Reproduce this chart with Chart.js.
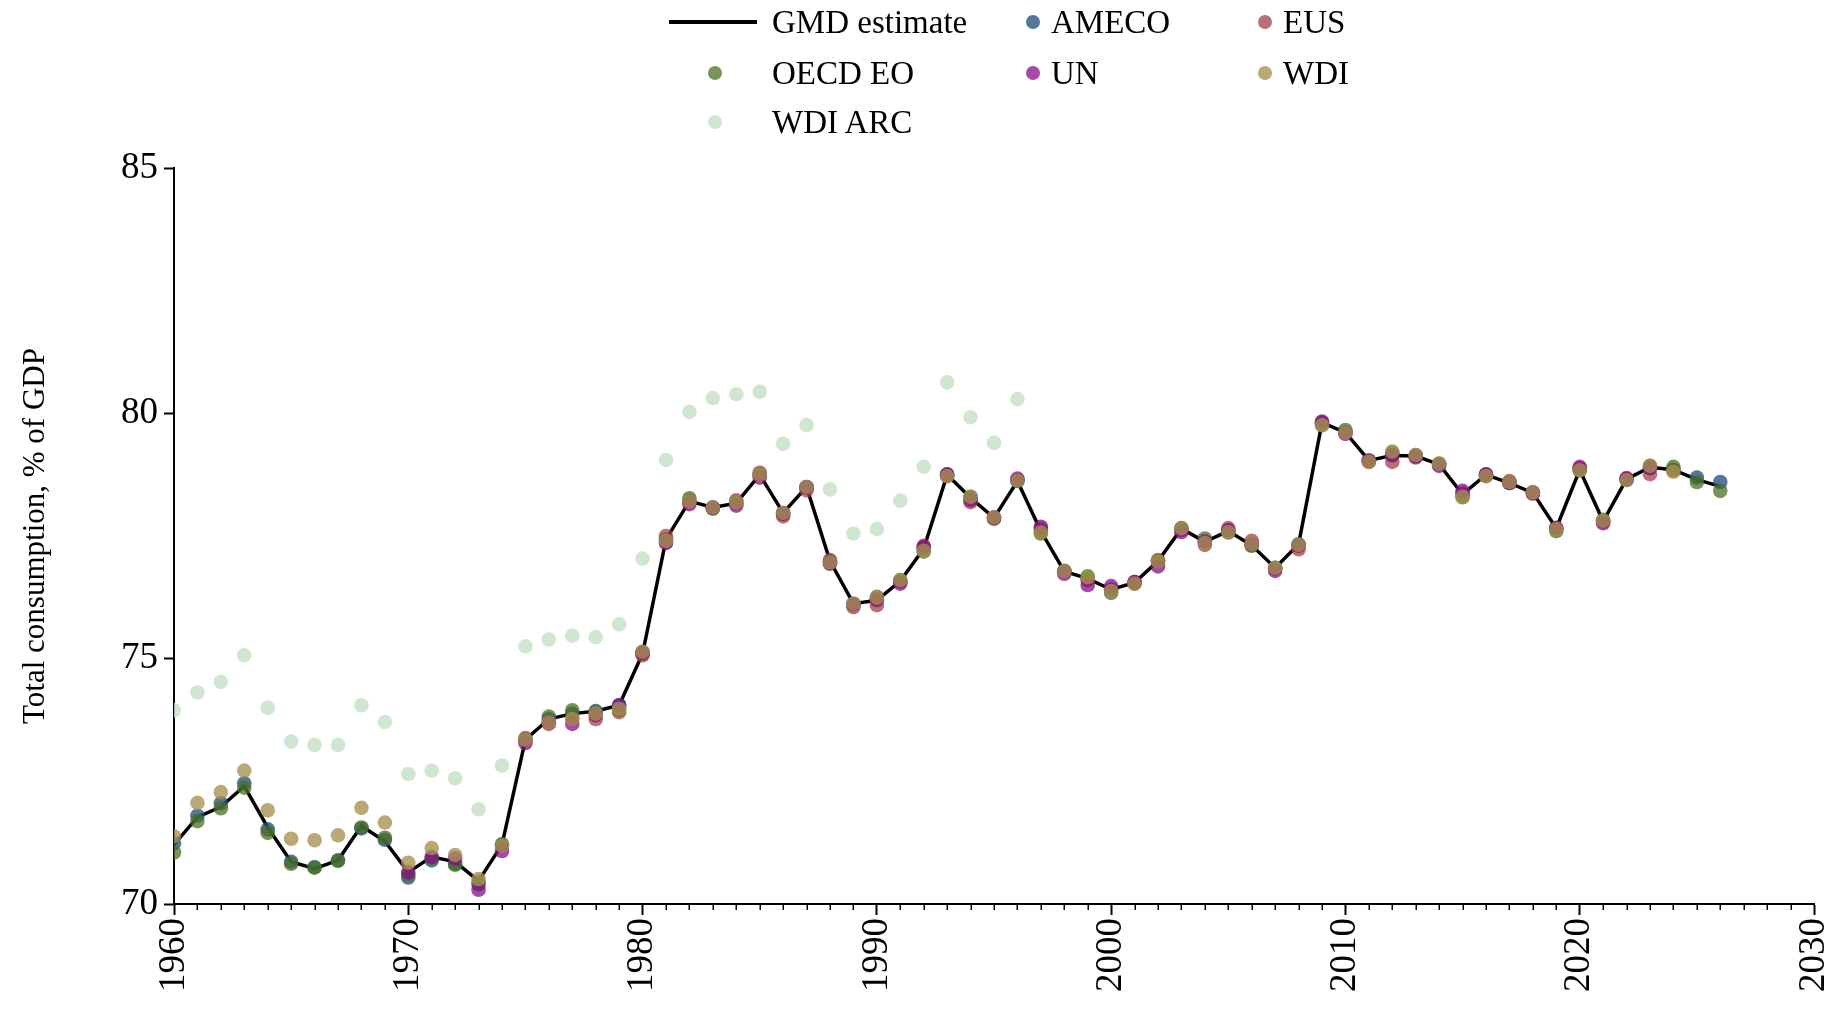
<!DOCTYPE html>
<html><head><meta charset="utf-8">
<script src="https://cdn.jsdelivr.net/npm/chart.js@4"></script>
<style>
html,body{margin:0;padding:0;background:#fff;}
#wrap{position:relative;width:1840px;height:1012px;overflow:hidden;}
canvas{position:absolute;left:0;top:0;}
.lg{position:absolute;display:flex;align-items:center;height:40px;font-family:'Liberation Serif','Times New Roman',serif;font-size:33px;color:#000;white-space:nowrap;line-height:1;}
.dot{position:absolute;width:14px;height:14px;border-radius:50%;}
.ln{position:absolute;height:3.5px;background:#000;}
</style></head>
<body><div id="wrap"><canvas id="c" width="1840" height="1012"></canvas><div id="legend"></div></div>
<script>
const years = [1960,1961,1962,1963,1964,1965,1966,1967,1968,1969,1970,1971,1972,1973,1974,1975,1976,1977,1978,1979,1980,1981,1982,1983,1984,1985,1986,1987,1988,1989,1990,1991,1992,1993,1994,1995,1996,1997,1998,1999,2000,2001,2002,2003,2004,2005,2006,2007,2008,2009,2010,2011,2012,2013,2014,2015,2016,2017,2018,2019,2020,2021,2022,2023,2024,2025,2026];

const gmd = [71.21,71.77,71.98,72.40,71.56,70.86,70.72,70.89,71.59,71.28,
  70.65,70.96,70.86,70.47,71.21,73.35,73.77,73.88,73.93,74.05,
  75.10,77.43,78.21,78.08,78.17,78.75,77.97,78.50,76.99,76.12,
  76.19,76.58,77.24,78.75,78.28,77.87,78.62,77.60,76.78,76.63,
  76.41,76.55,76.99,77.65,77.38,77.60,77.31,76.85,77.33,79.81,
  79.61,79.04,79.14,79.13,78.96,78.35,78.75,78.58,78.38,77.66,
  78.85,77.80,78.66,78.90,78.85,78.65,78.51];

const ameco = [71.24,71.80,72.05,72.46,71.52,70.86,70.75,70.89,71.54,71.31,
  70.54,70.89,70.82,70.40,71.20,73.35,73.77,73.88,73.93,74.05,
  75.10,77.43,78.21,78.08,78.17,78.75,77.97,78.50,76.99,76.12,
  76.19,76.58,77.24,78.75,78.28,77.87,78.62,77.60,76.78,76.63,
  76.41,76.55,76.99,77.65,77.38,77.60,77.31,76.85,77.33,79.81,
  79.61,79.04,79.14,79.13,78.96,78.35,78.75,78.58,78.38,77.66,
  78.85,77.80,78.66,78.90,78.85,78.69,78.60];

const eus = [null,null,null,null,null,null,null,null,null,null,
  null,null,null,null,null,73.38,73.67,73.79,73.77,73.91,
  75.07,77.50,78.19,78.06,78.23,78.79,77.90,78.43,77.01,76.05,
  76.09,76.58,77.30,78.72,78.19,77.88,78.64,77.65,76.79,76.60,
  76.40,76.56,77.01,77.62,77.32,77.66,77.40,76.84,77.23,79.80,
  79.61,79.04,79.01,79.10,78.97,78.37,78.74,78.62,78.36,77.66,
  78.88,77.80,78.68,78.76,78.84,null,null];

const oecd = [71.05,71.69,71.95,72.37,71.45,70.82,70.74,70.88,71.56,71.35,
  70.60,70.94,70.80,70.45,71.22,73.35,73.82,73.95,73.91,73.96,
  75.14,77.37,78.27,78.06,78.18,78.75,77.95,78.49,76.94,76.11,
  76.26,76.60,77.18,78.74,78.30,77.85,78.63,77.55,76.78,76.68,
  76.34,76.53,76.98,77.66,77.45,77.57,77.30,76.84,77.32,79.76,
  79.66,79.01,79.20,79.15,78.97,78.29,78.72,78.60,78.39,77.60,
  78.84,77.83,78.64,78.93,78.91,78.60,78.42];

const un = [null,null,null,null,null,null,null,null,null,null,
  70.65,70.96,70.93,70.29,71.08,73.28,73.70,73.67,73.85,74.05,
  75.12,77.36,78.15,78.08,78.12,78.69,77.95,78.49,76.94,76.11,
  76.21,76.53,77.28,78.76,78.23,77.87,78.67,77.69,76.73,76.50,
  76.48,76.56,76.88,77.58,77.39,77.62,77.33,76.79,77.30,79.83,
  79.58,79.03,79.15,79.12,78.93,78.42,78.76,78.58,78.38,77.66,
  78.91,77.76,78.67,78.88,null,null,null];

const wdi = [71.38,72.06,72.28,72.72,71.91,71.33,71.30,71.40,71.96,71.66,
  70.84,71.14,71.00,70.51,71.19,73.35,73.70,73.77,73.88,73.98,
  75.14,77.40,78.20,78.08,78.18,78.75,77.97,78.50,76.96,76.12,
  76.24,76.60,77.20,78.72,78.30,77.88,78.63,77.57,76.78,76.66,
  76.38,76.53,76.98,77.66,77.36,77.58,77.33,76.85,77.32,79.76,
  79.60,79.01,79.22,79.15,78.97,78.30,78.72,78.60,78.39,77.64,
  78.84,77.81,78.64,78.93,78.81,null,null];

const wdiArc = [73.95,74.31,74.53,75.07,74.00,73.31,73.24,73.24,74.05,73.71,
  72.65,72.72,72.56,71.93,72.82,75.25,75.39,75.47,75.44,75.70,
  77.04,79.05,80.03,80.31,80.39,80.44,79.38,79.76,78.45,77.55,
  77.64,78.22,78.91,80.63,79.92,79.40,80.29,null,null,null,
  null,null,null,null,null,null,null,null,null,null,
  null,null,null,null,null,null,null,null,null,null,
  null,null,null,null,null,null,null];

const xTicks = [1960,1970,1980,1990,2000,2010,2020,2030];
const yTicks = [70,75,80,85];
const yTitle = 'Total consumption, % of GDP';

const seriesNames = ['AMECO','EUS','OECD EO','UN','WDI','WDI ARC'];
const seriesData = [ameco, eus, oecd, un, wdi, wdiArc];
const seriesColors = ['rgba(34,80,125,0.78)','rgba(162,65,71,0.75)','rgba(75,112,34,0.75)','rgba(136,11,139,0.75)','rgba(167,145,81,0.78)','rgba(195,224,197,0.8)'];

const FONT = "'Liberation Serif','Times New Roman',serif";

function toXY(vals){ const out=[]; years.forEach((yr,i)=>{ if(vals[i]!==null) out.push({x:yr,y:vals[i]}); }); return out; }

const datasets = [{
  type:'line', label:'GMD estimate', data: toXY(gmd),
  borderColor:'#000', borderWidth:3.5, pointRadius:0, tension:0, fill:false, order:10
}];
seriesNames.forEach((n,i)=>{
  datasets.push({type:'scatter', label:n, data: toXY(seriesData[i]),
    backgroundColor: seriesColors[i], borderWidth:0, pointRadius:7.3, pointHoverRadius:7.3, order: 6-i});
});

const minorTicks = {
  id:'minorTicks',
  afterDraw(chart){
    const sx = chart.scales.x, ctx = chart.ctx, y0 = chart.chartArea.bottom;
    ctx.save(); ctx.strokeStyle='#000'; ctx.lineWidth=1.5;
    for (let yr = Math.ceil(sx.min); yr <= sx.max; yr++) {
      if (xTicks.includes(yr)) continue;
      const px = Math.round(sx.getPixelForValue(yr)) + 0.25;
      ctx.beginPath(); ctx.moveTo(px, y0); ctx.lineTo(px, y0+6); ctx.stroke();
    }
    ctx.restore();
  }
};

new Chart(document.getElementById('c'), {
  data: { datasets },
  options: {
    responsive:false, animation:false, devicePixelRatio:1,
    layout:{ padding:{ top:168, right:26, left:0, bottom:0 } },
    plugins:{ legend:{display:false}, tooltip:{enabled:false} },
    scales:{
      x:{ type:'linear', min:1960, max:2030,
        afterBuildTicks: s => { s.ticks = xTicks.map(v=>({value:v})); },
        afterFit: s => { s.height = 108; s.paddingLeft = 0; s.paddingRight = 0; },
        ticks:{ autoSkip:false, maxRotation:90, minRotation:90, padding:3, color:'#000',
          font:{ family:FONT, size:37 }, callback: v => String(v) },
        grid:{ display:true, drawOnChartArea:false, drawTicks:true, tickLength:11, tickColor:'#000', tickWidth:2 },
        border:{ display:true, color:'#000', width:2 }
      },
      y:{ type:'linear', min:70, max:85,
        afterBuildTicks: s => { s.ticks = yTicks.map(v=>({value:v})); },
        afterFit: s => { s.width = 174; s.paddingTop = 0; s.paddingBottom = 0; },
        ticks:{ padding:6, color:'#000', font:{ family:FONT, size:37 }, callback: v => String(v) },
        grid:{ display:true, drawOnChartArea:false, drawTicks:true, tickLength:10, tickColor:'#000', tickWidth:2 },
        border:{ display:true, color:'#000', width:2 },
        title:{ display:true, text:yTitle, color:'#000', font:{ family:FONT, size:31 }, padding:{top:17,bottom:0} }
      }
    }
  },
  plugins:[minorTicks]
});

// HTML legend (3 columns x 3 rows)
const legendItems = [
  {name:'GMD estimate', kind:'line', cx:713, cy:22, tx:772},
  {name:'AMECO', kind:0, cx:1033, cy:22, tx:1051},
  {name:'EUS', kind:1, cx:1265, cy:22, tx:1283},
  {name:'OECD EO', kind:2, cx:715, cy:73, tx:772},
  {name:'UN', kind:3, cx:1033, cy:73, tx:1051},
  {name:'WDI', kind:4, cx:1265, cy:73, tx:1283},
  {name:'WDI ARC', kind:5, cx:715, cy:122, tx:772}
];
const lg = document.getElementById('legend');
legendItems.forEach(it=>{
  if (it.kind==='line') {
    const d=document.createElement('div'); d.className='ln';
    d.style.left='669px'; d.style.width='88px'; d.style.top=(it.cy-1.75)+'px'; lg.appendChild(d);
  } else {
    const d=document.createElement('div'); d.className='dot';
    d.style.left=(it.cx-7)+'px'; d.style.top=(it.cy-7)+'px'; d.style.background=seriesColors[it.kind]; lg.appendChild(d);
  }
  const t=document.createElement('div'); t.className='lg'; t.textContent=it.name;
  t.style.left=it.tx+'px'; t.style.top=(it.cy-20)+'px'; lg.appendChild(t);
});
</script>
</body></html>
